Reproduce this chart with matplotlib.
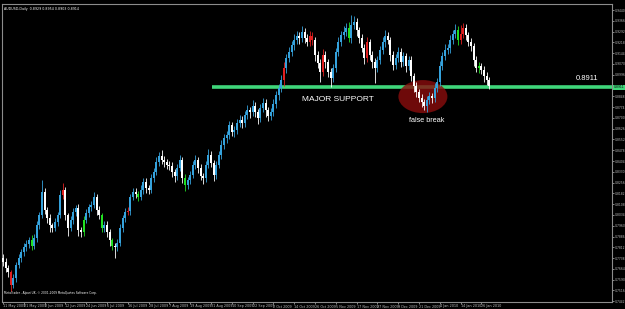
import numpy as np
import matplotlib
matplotlib.use('Agg')
import matplotlib.pyplot as plt
from matplotlib.patches import Ellipse

# Schlusskurse AUDUSD Daily
closes = [
    0.7711, 0.7670, 0.7643, 0.7554, 0.7602, 0.7691, 0.7739, 0.7780, 0.7814, 0.7835,
    0.7862, 0.7821, 0.7876, 0.7965, 0.8034, 0.8191, 0.8068, 0.8013, 0.7965, 0.7945,
    0.7986, 0.8034, 0.8171, 0.8205, 0.8034, 0.7945, 0.8000, 0.8054, 0.8082, 0.7931,
    0.7917, 0.8000, 0.8047, 0.8089, 0.8102, 0.8157, 0.8068, 0.8034, 0.7945, 0.7965,
    0.7917, 0.7862, 0.7821, 0.7814, 0.7842, 0.7945, 0.8013, 0.8054, 0.8061, 0.8157,
    0.8191, 0.8178, 0.8157, 0.8205, 0.8260, 0.8219, 0.8205, 0.8287, 0.8329, 0.8397,
    0.8439, 0.8411, 0.8397, 0.8377, 0.8370, 0.8329, 0.8301, 0.8356, 0.8411, 0.8287,
    0.8240, 0.8274, 0.8308, 0.8377, 0.8411, 0.8356, 0.8301, 0.8287, 0.8377, 0.8446,
    0.8390, 0.8308, 0.8377, 0.8446, 0.8514, 0.8561, 0.8582, 0.8651, 0.8603, 0.8617,
    0.8665, 0.8685, 0.8665, 0.8720, 0.8754, 0.8740, 0.8781, 0.8740, 0.8699, 0.8768,
    0.8802, 0.8754, 0.8713, 0.8740, 0.8795, 0.8857, 0.8905, 0.8960, 0.9042, 0.9111,
    0.9152, 0.9200, 0.9234, 0.9262, 0.9248, 0.9289, 0.9248, 0.9221, 0.9262, 0.9234,
    0.9131, 0.9076, 0.9015, 0.9131, 0.9083, 0.9015, 0.8973, 0.9042, 0.9152, 0.9221,
    0.9268, 0.9289, 0.9316, 0.9248, 0.9337, 0.9358, 0.9303, 0.9248, 0.9179, 0.9111,
    0.9221, 0.9131, 0.9083, 0.9042, 0.9097, 0.9166, 0.9221, 0.9262, 0.9234, 0.9131,
    0.9063, 0.9111, 0.9152, 0.9083, 0.9124, 0.9056, 0.9097, 0.8987, 0.8919, 0.8878,
    0.8837, 0.8809, 0.8781, 0.8823, 0.8850, 0.8837, 0.8905, 0.8946, 0.9056, 0.9124,
    0.9166, 0.9179, 0.9234, 0.9275, 0.9303, 0.9234, 0.9275, 0.9316, 0.9268, 0.9221,
    0.9193, 0.9097, 0.9042, 0.9056, 0.9028, 0.8987, 0.8960, 0.8919,
]
first_open = 0.7740

# Dochtlaengen in Pips (oben / unten)
wick_up = [
    25, 30, 20, 15, 30, 20, 25, 20, 30, 25,
    20, 35, 25, 30, 20, 80, 25, 20, 30, 15,
    25, 20, 35, 50, 20, 15, 30, 25, 20, 25,
    20, 30, 25, 20, 30, 35, 20, 25, 15, 30,
    25, 20, 15, 20, 30, 25, 20, 30, 25, 20,
    30, 25, 20, 35, 30, 25, 20, 30, 25, 35,
    30, 40, 25, 20, 30, 25, 20, 30, 35, 20,
    25, 20, 30, 25, 35, 20, 25, 20, 30, 40,
    25, 20, 30, 25, 35, 30, 25, 30, 20, 25,
    30, 35, 25, 30, 35, 20, 40, 25, 20, 30,
    35, 25, 20, 30, 35, 30, 25, 35, 40, 30,
    35, 30, 40, 35, 30, 40, 25, 30, 35, 25,
    20, 25, 30, 40, 25, 20, 30, 25, 30, 35,
    30, 40, 35, 45, 70, 40, 25, 20, 30, 25,
    35, 20, 25, 30, 25, 30, 35, 40, 25, 20,
    25, 30, 35, 25, 30, 20, 30, 25, 20, 25,
    20, 25, 20, 30, 25, 20, 35, 30, 35, 30,
    40, 30, 35, 30, 40, 30, 60, 35, 25, 20,
    25, 20, 30, 25, 20, 30, 25, 20,
]
wick_dn = [
    30, 25, 35, 40, 20, 25, 20, 30, 25, 30,
    25, 30, 20, 25, 30, 20, 30, 35, 45, 30,
    20, 25, 20, 30, 35, 55, 20, 25, 30, 40,
    35, 25, 20, 30, 25, 20, 35, 30, 25, 30,
    35, 40, 30, 75, 25, 20, 30, 25, 20, 25,
    20, 30, 25, 20, 30, 35, 30, 20, 25, 20,
    25, 30, 35, 25, 30, 35, 40, 25, 20, 35,
    40, 30, 25, 20, 25, 35, 30, 40, 25, 20,
    30, 40, 25, 20, 25, 30, 35, 25, 30, 35,
    30, 25, 35, 30, 25, 40, 30, 35, 40, 25,
    30, 45, 35, 30, 25, 30, 35, 30, 40, 35,
    30, 25, 35, 30, 40, 25, 35, 30, 25, 35,
    40, 35, 70, 30, 40, 35, 60, 30, 25, 30,
    25, 30, 25, 30, 35, 30, 40, 35, 30, 40,
    30, 35, 40, 100, 30, 25, 30, 35, 30, 40,
    35, 30, 25, 35, 30, 40, 30, 35, 40, 35,
    30, 35, 27, 40, 30, 35, 25, 30, 25, 30,
    25, 30, 35, 25, 30, 35, 25, 30, 35, 30,
    35, 40, 30, 35, 30, 40, 35, 20,
]

green_bars = [11, 31, 38, 42, 52, 70, 133, 175, 183]
red_bars = [3, 23, 48, 108, 118, 119, 123, 140, 176, 177]

date_labels = ['11 May 2009', '21 May 2009', '2 Jun 2009', '12 Jun 2009', '24 Jun 2009',
               '6 Jul 2009', '16 Jul 2009', '28 Jul 2009', '7 Aug 2009', '19 Aug 2009',
               '31 Aug 2009', '10 Sep 2009', '22 Sep 2009', '2 Oct 2009', '14 Oct 2009',
               '26 Oct 2009', '5 Nov 2009', '17 Nov 2009', '27 Nov 2009', '9 Dec 2009',
               '21 Dec 2009', '4 Jan 2010', '14 Jan 2010', '26 Jan 2010']
# Preisskala rechts (die Marke bei der Linie wird durch das 0.8911-Kaestchen ersetzt)
price_ticks = [round(0.9440 - k * 0.0074, 4) for k in range(28) if k != 7]

support = 0.8911
support_start = 81      # Bar-Index, ab dem die Linie beginnt
false_break_bar = 161.5
false_break_price = 0.8846

# OHLC zusammenbauen
closes = np.array(closes)
opens = np.concatenate([[first_open], closes[:-1]])
highs = np.maximum(opens, closes) + np.array(wick_up) / 10000
lows = np.minimum(opens, closes) - np.array(wick_dn) / 10000
idx = np.arange(len(closes))

colors = []
for i in idx:
    if i in green_bars:
        colors.append('#22e022')
    elif i in red_bars:
        colors.append('#e02020')
    elif closes[i] >= opens[i]:
        colors.append('#35a2dc')
    else:
        colors.append('white')

W, H = 625, 309
fig = plt.figure(figsize=(W / 100, H / 100), dpi=100, facecolor='black')
ax = fig.add_axes([2 / W, 7 / H, 610 / W, 298 / H], facecolor='black')

px = 2.6  # Pixel pro Bar
ax.set_xlim(-1 / px, -1 / px + 610 / px)
ax.set_ylim(0.95086 - 0.000686 * 302, 0.95086 - 0.000686 * 4)

# Unterstuetzungslinie + Ellipse
ax.hlines(support, support_start - 0.8, ax.get_xlim()[1], color='#3fd67a', lw=2.6, zorder=2)
ax.add_patch(Ellipse((false_break_bar, false_break_price), 49 / px, 33 * 0.000686,
                     facecolor='#8a0d0d', edgecolor='none', alpha=0.8, zorder=3))

# Kerzen
ax.vlines(idx, lows, highs, colors=colors, lw=0.6, zorder=4)
ax.bar(idx, np.maximum(np.abs(closes - opens), 0.0003), bottom=np.minimum(opens, closes),
       width=0.75, color=colors, linewidth=0, zorder=5)

# Achsen im MT4-Stil
for s in ax.spines.values():
    s.set_color('#8c8c8c')
    s.set_linewidth(0.8)
ax.yaxis.tick_right()
ax.set_yticks(price_ticks)
ax.set_yticklabels(['%.4f' % p for p in price_ticks])
ax.tick_params(axis='y', colors='#bdbdbd', labelsize=2.2, length=1.5, width=0.5, pad=0.5)
ax.set_xticks(np.arange(0, 8 * len(date_labels), 8))
ax.set_xticklabels(date_labels)
ax.tick_params(axis='x', colors='#bdbdbd', labelsize=2.4, length=1.5, width=0.5, pad=0.3)
for lab in ax.get_xticklabels():
    lab.set_ha('left')

# Kursmarke der Linie auf der Preisachse
ax.text(1.0025, support, '0.8911', transform=ax.get_yaxis_transform(), color='black',
        fontsize=2.2, ha='left', va='center', clip_on=False, zorder=7,
        bbox=dict(boxstyle='square,pad=0.15', facecolor='#3fd67a', edgecolor='none'))

# Beschriftungen
ax.text(0.5 / px, 0.95086 - 0.000686 * 9, 'AUDUSD,Daily  0.8929 0.8954 0.8903 0.8914',
        color='white', fontsize=2.3, va='center', ha='left')
ax.text(0.5 / px, 0.95086 - 0.000686 * 293,
        'MetaTrader - Alpari UK, \u00a9 2001-2009 MetaQuotes Software Corp.',
        color='white', fontsize=2.1, va='center', ha='left')
ax.text((338 - 3) / px, 0.95086 - 0.000686 * 99.5, 'MAJOR SUPPORT', color='white',
        fontsize=6, family='Liberation Sans', ha='center', va='center', zorder=6)
ax.text((587 - 3) / px, 0.95086 - 0.000686 * 78, '0.8911', color='white',
        fontsize=5.5, family='Liberation Sans', ha='center', va='center', zorder=6)
ax.text((427 - 3) / px, 0.95086 - 0.000686 * 120, 'false break', color='white',
        fontsize=5.2, family='Liberation Sans', ha='center', va='center', zorder=6)

fig.savefig('out.png', dpi=100, facecolor='black')
